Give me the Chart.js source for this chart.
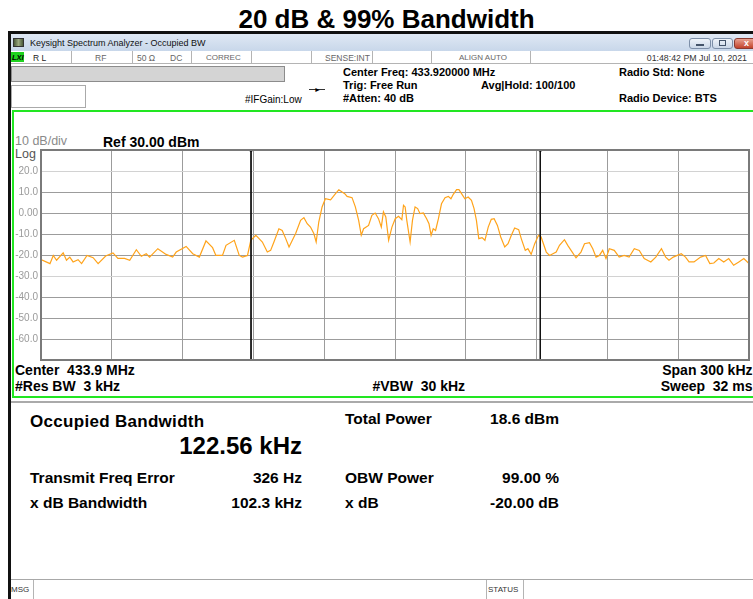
<!DOCTYPE html>
<html>
<head>
<meta charset="utf-8">
<script src="https://cdn.jsdelivr.net/npm/chart.js@4.4.1/dist/chart.umd.min.js"></script>
<style>
  html, body { margin:0; padding:0; }
  body { width:753px; height:599px; overflow:hidden; position:relative; background:#fff; font-family:"Liberation Sans", Arial, sans-serif; }
  .t { position:absolute; line-height:1; white-space:pre; color:#000; }
  .b { font-weight:bold; }
  .box { position:absolute; box-sizing:border-box; }
  #chart { position:absolute; left:0; top:0; z-index:5; }
</style>
</head>
<body>
<script>
// ---- Data ----
// frequency offset from the centre frequency, kHz (span 300 kHz)
const freqOffsetKHz = [
  -150.0,-146.2,-144.8,-143.4,-140.6,-139.2,-137.8,-136.4,-134.3,-132.8,
  -130.5,-127.9,-125.8,-122.6,-119.5,-117.4,-114.6,-112.4,-109.6,-107.5,
  -105.4,-104.0,-100.5,-97.0,-94.2,-92.7,-88.5,-85.7,-82.9,-80.1,
  -77.3,-75.9,-73.1,-71.6,-68.1,-66.0,-64.6,-62.5,-61.1,-59.0,
  -58.3,-56.2,-54.1,-52.7,-51.3,-49.2,-47.8,-46.3,-44.9,-43.5,
  -42.1,-40.0,-38.6,-37.2,-35.8,-34.4,-33.4,-32.3,-30.9,-29.5,
  -27.3,-25.2,-23.8,-22.4,-21.3,-20.3,-18.2,-16.8,-15.4,-14.3,
  -13.3,-11.2,-9.8,-8.4,-7.0,-5.8,-4.9,-3.9,-2.7,-1.3,
  0.1,1.5,2.9,3.6,4.3,5.0,6.4,7.4,8.5,9.6,
  10.6,12.0,13.4,14.4,15.3,16.2,17.2,18.4,19.7,21.2,
  22.6,23.7,24.7,26.1,27.1,28.2,29.6,31.0,32.4,33.5,
  34.5,35.5,36.9,38.1,39.5,40.8,42.0,43.4,44.8,46.5,
  47.9,49.3,50.7,52.4,53.5,55.2,56.3,57.7,59.2,60.8,
  61.9,64.1,65.5,66.9,68.3,69.7,71.8,73.2,74.6,76.7,
  78.8,80.3,82.4,83.8,85.2,86.6,88.0,89.4,90.8,92.9,
  95.0,97.1,99.2,101.4,103.5,105.6,108.4,110.5,112.9,114.7,
  116.1,117.9,119.6,121.3,123.1,124.6,126.7,129.5,131.6,133.4,
  135.1,137.2,139.3,141.4,143.5,145.7,147.8,150.0
];
// trace level, dBm
const levelDbm = [
  -22.2,-24.1,-20.2,-22.5,-19.0,-22.5,-21.0,-23.3,-22.2,-24.1,
  -20.2,-21.3,-24.1,-20.5,-19.0,-21.6,-21.6,-22.5,-17.5,-20.6,
  -19.4,-21.0,-17.0,-19.7,-21.0,-18.6,-15.9,-19.4,-21.0,-13.3,
  -16.5,-20.2,-20.2,-15.4,-13.0,-20.2,-21.0,-20.2,-13.0,-10.6,
  -11.4,-13.8,-18.6,-17.8,-13.8,-7.5,-8.3,-12.2,-16.2,-13.0,
  -9.8,-3.5,-2.2,-5.1,-6.7,-9.8,-13.8,-4.3,2.9,6.8,
  6.3,9.2,11.1,10.0,9.2,7.9,7.3,2.9,-3.5,-10.6,
  -7.5,-5.9,-1.1,0.0,-2.7,-6.7,0.5,-1.9,-13.0,-6.7,
  -2.7,-1.6,-3.2,3.7,2.9,-3.5,-13.8,-3.5,2.9,2.1,
  -0.3,0.0,-2.7,-5.1,-10.6,-7.5,-8.3,-2.7,4.4,7.3,
  7.9,6.8,8.9,11.1,11.1,9.2,6.8,7.6,6.0,2.1,
  -3.5,-12.2,-11.7,-13.0,-6.7,-3.0,-2.7,-5.9,-11.4,-16.2,
  -14.6,-10.6,-7.1,-7.9,-12.2,-17.8,-17.0,-19.7,-14.6,-10.6,
  -11.4,-18.6,-20.2,-19.4,-18.6,-15.4,-12.7,-15.4,-17.8,-21.3,
  -18.6,-14.6,-14.1,-17.0,-21.0,-20.2,-17.8,-21.7,-17.0,-17.8,
  -21.0,-20.2,-21.0,-17.0,-17.8,-21.7,-23.3,-21.0,-17.0,-21.0,
  -22.5,-21.0,-20.2,-19.4,-21.0,-23.3,-23.3,-21.0,-20.2,-24.1,
  -23.8,-21.7,-23.3,-21.7,-24.9,-23.3,-21.7,-24.1
];
// occupied bandwidth (99 %) edges, kHz from centre
const obwEdgesKHz = [-61.0, 61.56];
// display settings
const refLevelDbm = 30;
const dbPerDiv = 10;
const numDivs = 10;
const spanKHz = 300;
const lightGridLevels = [20, -30];
</script>

<!-- title -->
<div class="t b" style="left:0;width:773px;text-align:center;top:6px;font-size:26px;">20 dB &amp; 99% Bandwidth</div>

<!-- window frame -->
<div class="box" style="left:8px;top:31px;width:745px;height:3px;background:#111;"></div>
<div class="box" style="left:8px;top:31px;width:3px;height:568px;background:#111;"></div>
<div class="box" style="left:11px;top:34px;width:742px;height:17px;background:linear-gradient(#dfe8f4,#c8d7ea);"></div>
<div class="box" style="left:13px;top:38px;width:11px;height:9px;background:linear-gradient(90deg,#4a5a3a,#9aa880,#4a5a3a);border:1px solid #333;"></div>
<div class="t" style="left:30px;top:39.4px;font-size:9px;color:#111;">Keysight Spectrum Analyzer - Occupied BW</div>
<div class="box" style="left:689px;top:38px;width:22px;height:11px;border:1px solid #7d8fa8;border-radius:3px;background:linear-gradient(#eef3f9,#cbd8e8);"></div>
<div class="box" style="left:696px;top:44px;width:8px;height:2px;background:#44546a;"></div>
<div class="box" style="left:712px;top:38px;width:21px;height:11px;border:1px solid #7d8fa8;border-radius:3px;background:linear-gradient(#eef3f9,#cbd8e8);"></div>
<div class="box" style="left:719px;top:40px;width:7px;height:6px;border:1px solid #44546a;"></div>
<div class="box" style="left:734px;top:38px;width:25px;height:11px;border:1px solid #8a3a30;border-radius:3px;background:linear-gradient(#e8a08f,#c2432c);"></div>
<div class="t b" style="left:744px;top:38.5px;font-size:9px;color:#fff;">x</div>

<!-- status row -->
<div class="box" style="left:11px;top:51px;width:742px;height:13px;background:#fff;border-bottom:1px solid #b4b4b4;"></div>
<div class="box" style="left:11px;top:52px;width:13px;height:10px;background:#1ed21e;"></div>
<div class="t b" style="left:12px;top:54px;font-size:7.5px;font-style:italic;color:#000;">LXI</div>
<div class="box" style="left:71px;top:51px;width:1px;height:13px;background:#b4b4b4;"></div>
<div class="box" style="left:132px;top:51px;width:1px;height:13px;background:#b4b4b4;"></div>
<div class="box" style="left:191px;top:51px;width:1px;height:13px;background:#b4b4b4;"></div>
<div class="box" style="left:251px;top:51px;width:1px;height:13px;background:#b4b4b4;"></div>
<div class="box" style="left:311px;top:51px;width:1px;height:13px;background:#b4b4b4;"></div>
<div class="box" style="left:372px;top:51px;width:1px;height:13px;background:#b4b4b4;"></div>
<div class="box" style="left:431px;top:51px;width:1px;height:13px;background:#b4b4b4;"></div>
<div class="box" style="left:530px;top:51px;width:1px;height:13px;background:#b4b4b4;"></div>
<div class="t" style="left:33px;top:54.3px;font-size:8.5px;color:#222;">R L</div>
<div class="t" style="left:95px;top:54.3px;font-size:8.5px;color:#666;">RF</div>
<div class="t" style="left:137px;top:54.3px;font-size:8.5px;color:#666;">50 Ω</div>
<div class="t" style="left:170px;top:54.3px;font-size:8.5px;color:#666;">DC</div>
<div class="t" style="left:206px;top:54.3px;font-size:8px;color:#666;">CORREC</div>
<div class="t" style="left:325px;top:54.3px;font-size:8.5px;color:#666;">SENSE:INT</div>
<div class="t" style="left:459px;top:54.3px;font-size:8px;color:#666;">ALIGN AUTO</div>
<div class="t" style="right:6px;top:54.3px;font-size:8.8px;color:#333;">01:48:42 PM Jul 10, 2021</div>

<!-- header -->
<div class="box" style="left:11px;top:66px;width:274px;height:16px;background:#d4d4d4;border:1px solid #8c8c8c;"></div>
<div class="box" style="left:11px;top:85px;width:75px;height:23px;background:#fff;border:1px solid #aaa;"></div>
<div class="t" style="left:245px;top:94.5px;font-size:10px;">#IFGain:Low</div>
<div class="box" style="left:309px;top:89px;width:16px;height:1px;background:#333;"></div>
<div class="t" style="left:314px;top:85.5px;font-size:7px;color:#000;">►</div>
<div class="t b" style="left:343px;top:66.7px;font-size:11px;">Center Freq: 433.920000 MHz</div>
<div class="t b" style="left:343px;top:79.7px;font-size:11px;">Trig: Free Run</div>
<div class="t b" style="left:343px;top:92.7px;font-size:11px;">#Atten: 40 dB</div>
<div class="t b" style="left:481px;top:79.7px;font-size:11px;">Avg|Hold: 100/100</div>
<div class="t b" style="left:619px;top:66.7px;font-size:11px;">Radio Std: None</div>
<div class="t b" style="left:619px;top:92.7px;font-size:11px;">Radio Device: BTS</div>

<!-- graph panel -->
<div class="box" style="left:12px;top:110px;width:760px;height:288px;border:2px solid #22e622;"></div>
<div class="t" style="left:15px;top:135.4px;font-size:12.5px;color:#8a8a8a;">10 dB/div</div>
<div class="t" style="left:15px;top:148.4px;font-size:12.5px;color:#555;">Log</div>
<div class="t b" style="left:103px;top:135.1px;font-size:14px;">Ref 30.00 dBm</div>
<div class="t b" style="left:15px;top:363.1px;font-size:14px;">Center  433.9 MHz</div>
<div class="t b" style="left:15px;top:379.1px;font-size:14px;">#Res BW  3 kHz</div>
<div class="t b" style="left:372.5px;top:379.1px;font-size:14px;">#VBW  30 kHz</div>
<div class="t b" style="right:0.5px;top:363.1px;font-size:14px;">Span 300 kHz</div>
<div class="t b" style="right:0.5px;top:379.1px;font-size:14px;">Sweep  32 ms</div>
<div class="box" style="left:11px;top:401px;width:742px;height:2px;background:#aaa;"></div>

<!-- measurement panel -->
<div class="t b" style="left:30px;top:412.6px;font-size:17px;letter-spacing:0.3px;">Occupied Bandwidth</div>
<div class="t b" style="right:451px;top:433.7px;font-size:24px;">122.56 kHz</div>
<div class="t b" style="left:30px;top:469.9px;font-size:15.5px;">Transmit Freq Error</div>
<div class="t b" style="right:451px;top:469.9px;font-size:15.5px;">326 Hz</div>
<div class="t b" style="left:30px;top:494.9px;font-size:15.5px;">x dB Bandwidth</div>
<div class="t b" style="right:451px;top:494.9px;font-size:15.5px;">102.3 kHz</div>
<div class="t b" style="left:345px;top:410.9px;font-size:15.5px;">Total Power</div>
<div class="t b" style="right:194px;top:410.9px;font-size:15.5px;">18.6 dBm</div>
<div class="t b" style="left:345px;top:469.9px;font-size:15.5px;">OBW Power</div>
<div class="t b" style="right:194px;top:469.9px;font-size:15.5px;">99.00 %</div>
<div class="t b" style="left:345px;top:494.9px;font-size:15.5px;">x dB</div>
<div class="t b" style="right:194px;top:494.9px;font-size:15.5px;">-20.00 dB</div>

<!-- message bar -->
<div class="box" style="left:11px;top:579px;width:742px;height:1px;background:#a8a8a8;"></div>
<div class="box" style="left:33px;top:580px;width:1px;height:19px;background:#b4b4b4;"></div>
<div class="box" style="left:486px;top:580px;width:1px;height:19px;background:#b4b4b4;"></div>
<div class="box" style="left:523px;top:580px;width:1px;height:19px;background:#b4b4b4;"></div>
<div class="t" style="left:11px;top:586.2px;font-size:8px;color:#333;">MSG</div>
<div class="t" style="left:488px;top:586.2px;font-size:8px;color:#333;">STATUS</div>

<canvas id="chart" width="753" height="599"></canvas>

<script>
const halfSpan = spanKHz / 2;
const bottomLevel = refLevelDbm - dbPerDiv * numDivs;

const tracePoints = freqOffsetKHz.map((f, i) => ({ x: f, y: levelDbm[i] }));
const markerSets = obwEdgesKHz.map(f => ({
  data: [{ x: f, y: refLevelDbm }, { x: f, y: bottomLevel }],
  borderColor: '#111',
  borderWidth: 1,
  pointRadius: [2, 0],
  pointStyle: 'rect',
  pointBackgroundColor: '#000',
  pointBorderWidth: 0,
  tension: 0,
  order: 0
}));

const framePlugin = {
  id: 'frame',
  afterDraw(chart) {
    const a = chart.chartArea, c = chart.ctx;
    c.save();
    c.strokeStyle = '#7a7a7a';
    c.lineWidth = 2;
    c.strokeRect(a.left, a.top, a.right - a.left, a.bottom - a.top);
    c.restore();
  }
};

new Chart(document.getElementById('chart'), {
  type: 'line',
  data: {
    datasets: [
      {
        data: tracePoints,
        borderColor: '#ffa31a',
        borderWidth: 1.2,
        pointRadius: 0,
        tension: 0,
        order: 1
      },
      ...markerSets
    ]
  },
  options: {
    responsive: false,
    animation: false,
    devicePixelRatio: 1,
    layout: { padding: { left: 0, top: 150, right: 1, bottom: 239 } },
    plugins: { legend: { display: false }, tooltip: { enabled: false } },
    scales: {
      x: {
        type: 'linear',
        min: -halfSpan,
        max: halfSpan,
        ticks: { display: false, stepSize: spanKHz / numDivs },
        grid: { color: '#9c9c9c', lineWidth: 1, drawTicks: false, tickLength: 0 },
        border: { display: false },
        afterFit(s) { s.height = 0; }
      },
      y: {
        type: 'linear',
        min: bottomLevel,
        max: refLevelDbm,
        ticks: {
          stepSize: dbPerDiv,
          padding: 3,
          color: '#9a9a9a',
          font: { family: 'Liberation Sans', size: 10 },
          callback: v => (v === refLevelDbm || v === bottomLevel) ? '' : (v === 0 ? '0.00' : v.toFixed(1))
        },
        grid: {
          color: c => lightGridLevels.includes(c.tick && c.tick.value) ? '#d2d2d2' : '#9c9c9c',
          lineWidth: 1,
          drawTicks: false,
          tickLength: 0
        },
        border: { display: false },
        afterFit(s) { s.width = 41; }
      }
    }
  },
  plugins: [framePlugin]
});
</script>
</body>
</html>
